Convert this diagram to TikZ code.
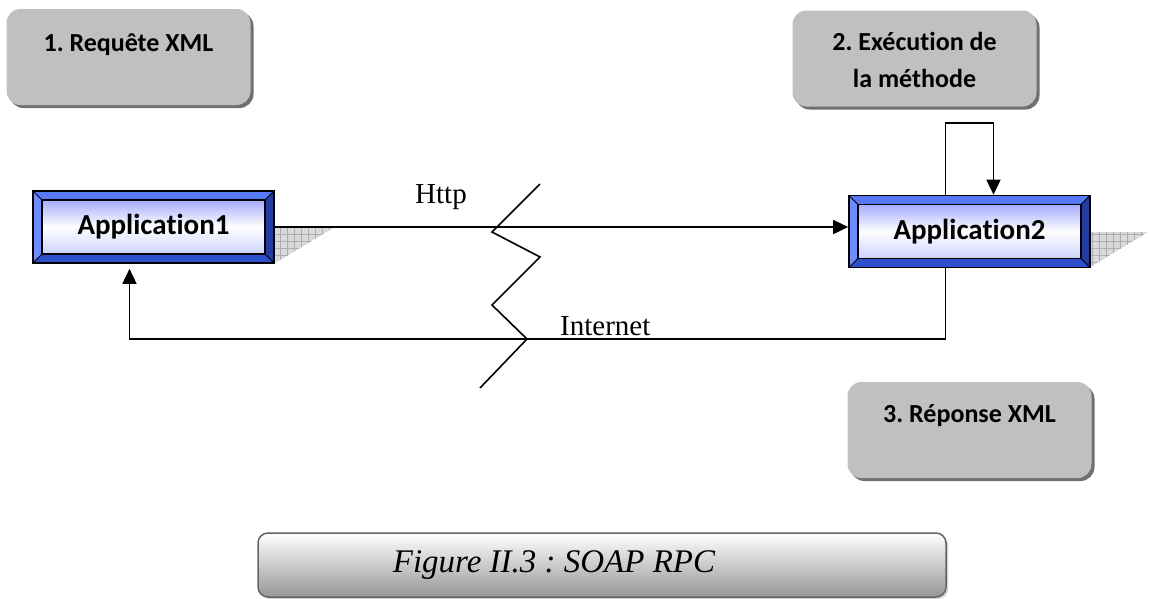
\documentclass[tikz,border=0pt]{standalone}
\usepackage{fontspec}
\setmainfont{Liberation Serif}
\newfontfamily\carl[Ligatures=NoCommon]{Carlito}
\usetikzlibrary{arrows.meta,shadows,patterns.meta}
\frenchspacing
\definecolor{boxgray}{RGB}{192,192,192}
\definecolor{shgray}{RGB}{112,112,112}
\definecolor{bvtop}{RGB}{88,120,250}
\definecolor{bvleft}{RGB}{110,140,255}
\definecolor{bvright}{RGB}{35,60,165}
\definecolor{bvbot}{RGB}{45,80,205}
\definecolor{intop}{RGB}{165,172,252}
\definecolor{inbot}{RGB}{205,210,255}
\definecolor{capgray}{RGB}{150,150,150}
\definecolor{capedge}{RGB}{100,100,100}
\newcommand\mybevel{%
 \fill[bvtop] (path picture bounding box.north west) -- (path picture bounding box.north east) -- ([shift={(-9pt,-9pt)}]path picture bounding box.north east) -- ([shift={(9pt,-9pt)}]path picture bounding box.north west) -- cycle;
 \fill[bvbot] (path picture bounding box.south west) -- (path picture bounding box.south east) -- ([shift={(-9pt,9pt)}]path picture bounding box.south east) -- ([shift={(9pt,9pt)}]path picture bounding box.south west) -- cycle;
 \fill[bvleft] (path picture bounding box.north west) -- (path picture bounding box.south west) -- ([shift={(9pt,9pt)}]path picture bounding box.south west) -- ([shift={(9pt,-9pt)}]path picture bounding box.north west) -- cycle;
 \fill[bvright] (path picture bounding box.north east) -- (path picture bounding box.south east) -- ([shift={(-9pt,9pt)}]path picture bounding box.south east) -- ([shift={(-9pt,-9pt)}]path picture bounding box.north east) -- cycle;
 \shade[top color=intop, bottom color=inbot, middle color=white] ([shift={(9pt,-9pt)}]path picture bounding box.north west) rectangle ([shift={(-9pt,9pt)}]path picture bounding box.south east);
 \draw[line width=1.3pt] ([shift={(9pt,-9pt)}]path picture bounding box.north west) rectangle ([shift={(-9pt,9pt)}]path picture bounding box.south east);
 \draw[line width=0.9pt] (path picture bounding box.north west) -- ([shift={(9pt,-9pt)}]path picture bounding box.north west)
   (path picture bounding box.north east) -- ([shift={(-9pt,-9pt)}]path picture bounding box.north east)
   (path picture bounding box.south west) -- ([shift={(9pt,9pt)}]path picture bounding box.south west)
   (path picture bounding box.south east) -- ([shift={(-9pt,9pt)}]path picture bounding box.south east);
}
\tikzset{
 appbox/.style={draw=black, line width=1.6pt, minimum width=241pt, minimum height=72pt, inner sep=0pt,
   font=\carl\bfseries\fontsize{29}{32}\selectfont, path picture={\mybevel}},
 graybox/.style={rounded corners=14pt, fill=boxgray, minimum width=244pt, minimum height=96pt, inner sep=0pt,
   drop shadow={shadow xshift=3pt, shadow yshift=-3pt, fill=shgray, opacity=1},
   font=\carl\bfseries\fontsize{26}{37}\selectfont},
 capbox/.style={rounded corners=10pt, draw=capedge, line width=1.5pt, top color=white, bottom color=capgray,
   minimum width=688pt, minimum height=64pt, inner sep=0pt,
   drop shadow={shadow xshift=2pt, shadow yshift=-2pt, fill=gray!35, opacity=1},
   font=\itshape\fontsize{33}{36}\selectfont},
 conn/.style={line width=1.6pt, draw=black},
 arr/.style={conn, -{Triangle[length=15pt,width=14pt]}},
 lbl/.style={font=\fontsize{29}{32}\selectfont, inner sep=0pt},
 shadowhatch/.style={fill=gray!30, postaction={pattern={Hatch[distance=7pt,line width=0.7pt]}, pattern color=gray!65}}
}
\begin{document}
\begin{tikzpicture}[x=1pt,y=-1pt]
\useasboundingbox (0,0) rectangle (1149,598);
% extrusion shadows
\path[shadowhatch] (274,228) -- (333,228) -- (277,262) -- (274,262) -- cycle;
\path[shadowhatch] (1090,232) -- (1148,232) -- (1092,266) -- (1090,266) -- cycle;
% gray step boxes
\node[graybox] (b1) at (128.5,57) {\parbox[c][96pt][t]{244pt}{\centering\rule{0pt}{42pt}1. Requête XML}};
\node[graybox] (b2) at (914.5,58.5) {\parbox[c][96pt][t]{244pt}{\centering\rule{0pt}{40pt}2. Exécution de\\la méthode}};
\node[graybox] (b3) at (969.5,430) {\parbox[c][96pt][t]{244pt}{\centering\rule{0pt}{40pt}3. Réponse XML}};
% applications
\node[appbox] (app1) at (153.5,227) {Application1};
\node[appbox] (app2) at (969.5,231.5) {Application2};
% connectors
\draw[arr] (app1.east) -- (app1.east -| app2.west);
\draw[arr] ([xshift=-24pt]app2.north) -- ++(0,-72) -| ([xshift=24pt]app2.north);
\coordinate (ret) at (0,339);
\draw[arr, shorten >=5pt] ([xshift=-24pt]app2.south) -- ([xshift=-24pt]app2.south |- ret) -- ([xshift=-24pt]app1.south |- ret) -- ([xshift=-24pt]app1.south);
% internet zigzag
\draw[conn] (540,184) -- (492,232) -- (540,257) -- (492,305) -- (527,339) -- (480,388);
% labels
\node[lbl, anchor=base west] (http) at (415,203.5) {Http};
\node[lbl, anchor=base west] (inet) at (560,335) {Internet};
% caption
\node[capbox] (cap) at (602,565) {\parbox[c][64pt][c]{688pt}{\centering\hspace*{-96pt}Figure II.3 : SOAP RPC}};
\end{tikzpicture}
\end{document}
